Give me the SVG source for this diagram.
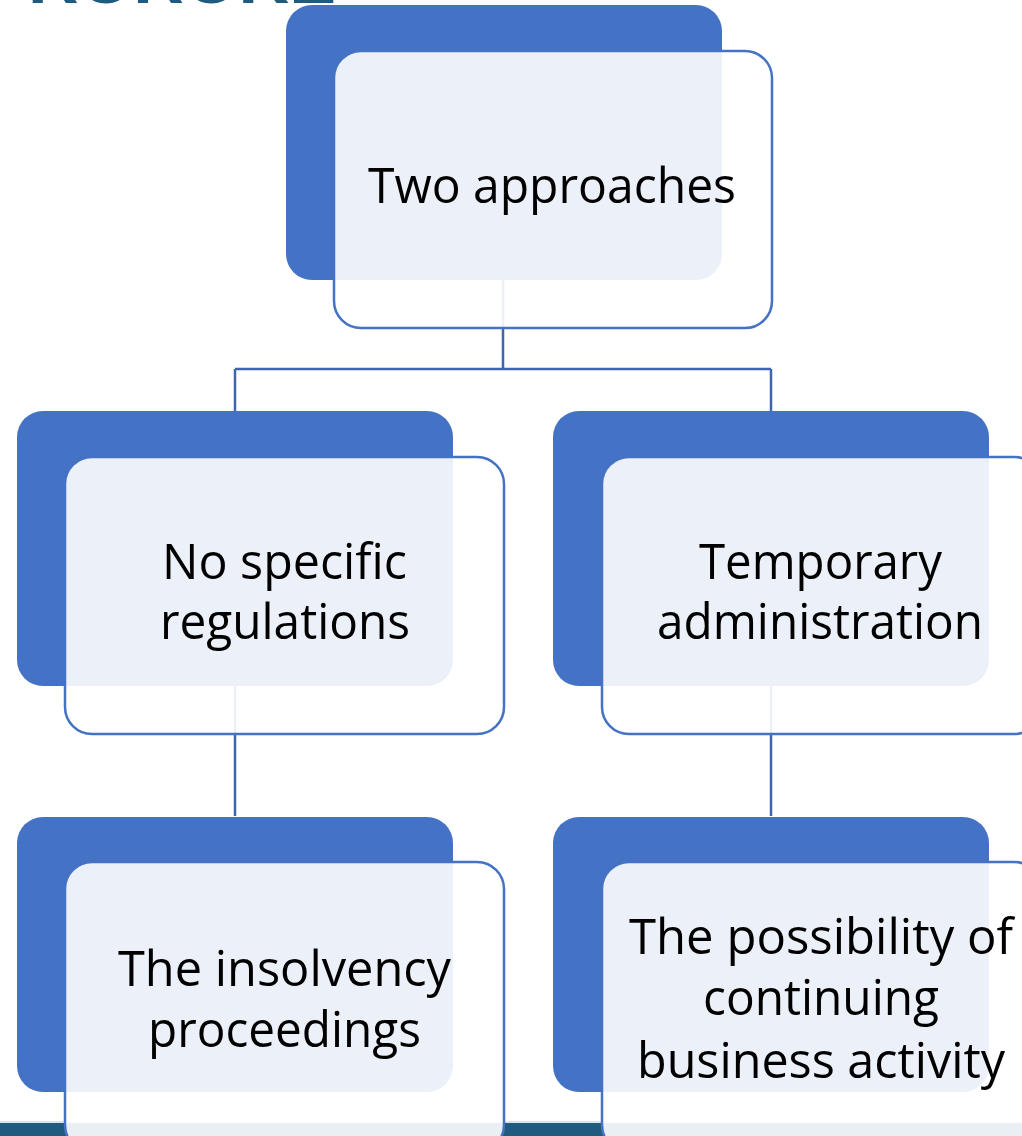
<svg xmlns="http://www.w3.org/2000/svg" width="1022" height="1136" viewBox="0 0 1022 1136">
<style>
.dark{fill:#4472C4;}
.front{fill:#FFFFFF;fill-opacity:0.9;stroke:#4472C4;stroke-width:2.5;}
.lbl{font-family:"Open Sans","Noto Sans","Liberation Sans",sans-serif;font-size:49px;fill:#000000;text-anchor:middle;}
.conn{fill:none;stroke:#3F66AE;stroke-width:2.5;}
</style>
<rect x="0" y="0" width="1022" height="1136" fill="#FFFFFF"/>
<text x="28" y="3" font-family="Liberation Sans, sans-serif" font-weight="bold" font-size="70" fill="#1F5B7F" textLength="308" lengthAdjust="spacingAndGlyphs">ROROKE</text>
<rect x="0" y="1121" width="1022" height="2" fill="#DCE3E9"/>
<rect x="0" y="1123" width="1022" height="13" fill="#1F5B7F"/>
<g id="connectors">
<path class="conn" d="M503,280 V369 M235,369 H771 M235,369 V411 M771,369 V411"/>
<path class="conn" d="M235,686 V816 M771,686 V816"/>
</g>
<g id="node-top">
<rect class="dark" x="286" y="5" width="436" height="275" rx="26"/>
<rect class="front" x="334" y="51" width="438" height="277" rx="27"/>
<text class="lbl" x="552" y="203" textLength="368" lengthAdjust="spacingAndGlyphs">Two approaches</text>
</g>
<g id="node-no-specific">
<rect class="dark" x="17" y="411" width="436" height="275" rx="26"/>
<rect class="front" x="65" y="457" width="439" height="277" rx="27"/>
<text class="lbl" x="284.5" y="579" textLength="245" lengthAdjust="spacingAndGlyphs">No specific</text>
<text class="lbl" x="285" y="639" textLength="250" lengthAdjust="spacingAndGlyphs">regulations</text>
</g>
<g id="node-temporary">
<rect class="dark" x="553" y="411" width="436" height="275" rx="26"/>
<rect class="front" x="602" y="457" width="439" height="277" rx="27"/>
<text class="lbl" x="820.5" y="579" textLength="243" lengthAdjust="spacingAndGlyphs">Temporary</text>
<text class="lbl" x="820" y="639" textLength="326" lengthAdjust="spacingAndGlyphs">administration</text>
</g>
<g id="node-insolvency">
<rect class="dark" x="17" y="817" width="436" height="275" rx="26"/>
<rect class="front" x="65" y="862" width="439" height="290" rx="27"/>
<text class="lbl" x="284.5" y="986" textLength="333" lengthAdjust="spacingAndGlyphs">The insolvency</text>
<text class="lbl" x="284.5" y="1047" textLength="273" lengthAdjust="spacingAndGlyphs">proceedings</text>
</g>
<g id="node-continuing">
<rect class="dark" x="553" y="817" width="436" height="275" rx="26"/>
<rect class="front" x="602" y="862" width="439" height="290" rx="27"/>
<text class="lbl" x="821" y="954" textLength="384" lengthAdjust="spacingAndGlyphs">The possibility of</text>
<text class="lbl" x="821" y="1015" textLength="236" lengthAdjust="spacingAndGlyphs">continuing</text>
<text class="lbl" x="821" y="1078" textLength="368" lengthAdjust="spacingAndGlyphs">business activity</text>
</g>
</svg>
